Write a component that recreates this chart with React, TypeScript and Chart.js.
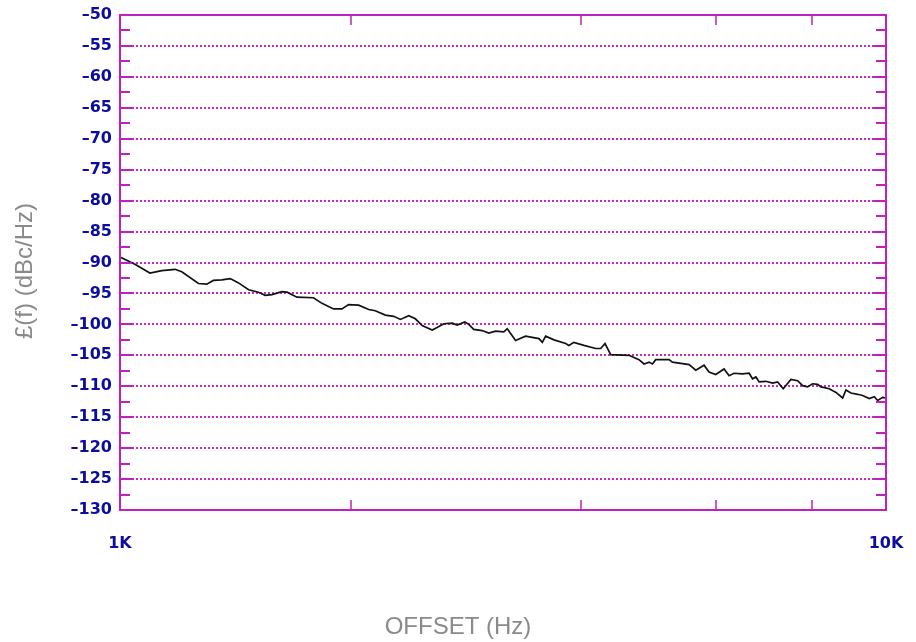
import { useEffect, useRef } from "react";
import { Chart, registerables } from "chart.js";

Chart.register(...registerables);

// ---- data ----
const offsetHz = [
  1000, 1046, 1094, 1134, 1180, 1204, 1266, 1298, 1324, 1358,
  1393, 1428, 1472, 1516, 1547, 1579, 1627, 1652, 1702, 1789,
  1835, 1900, 1949, 1988, 2049, 2112, 2154, 2220, 2277, 2323,
  2382, 2430, 2480, 2556, 2594, 2647, 2715, 2755, 2819, 2853,
  2896, 2970, 3030, 3092, 3170, 3203, 3284, 3384, 3523, 3559,
  3595, 3686, 3818, 3855, 3913, 4033, 4178, 4242, 4297, 4371,
  4618, 4759, 4832, 4905, 4955, 5005, 5209, 5263, 5533, 5645,
  5787, 5875, 5995, 6146, 6240, 6334, 6496, 6627, 6696, 6763,
  6830, 6969, 7111, 7219, 7342, 7514, 7667, 7783, 7900, 8020,
  8142, 8224, 8433, 8604, 8778, 8866, 9000, 9183, 9322, 9510,
  9654, 9752, 9901, 10000,
];
const phaseNoise = [
  -89.1, -90.3, -91.7, -91.3, -91.1, -91.5, -93.4, -93.5, -92.9, -92.8,
  -92.6, -93.3, -94.4, -94.8, -95.3, -95.2, -94.7, -94.8, -95.6, -95.7,
  -96.6, -97.5, -97.5, -96.8, -96.9, -97.6, -97.8, -98.5, -98.7, -99.2,
  -98.6, -99.1, -100.2, -100.9, -100.5, -99.9, -99.8, -100.1, -99.6, -100.0,
  -100.8, -101.0, -101.4, -101.1, -101.2, -100.7, -102.6, -101.9, -102.3, -102.9,
  -101.9, -102.5, -103.1, -103.4, -102.9, -103.4, -103.9, -103.9, -103.1, -104.9,
  -105.0, -105.7, -106.4, -106.1, -106.4, -105.7, -105.7, -106.1, -106.5, -107.4,
  -106.6, -107.7, -108.1, -107.2, -108.3, -107.9, -108.0, -107.9, -108.8, -108.5,
  -109.3, -109.2, -109.5, -109.3, -110.4, -108.9, -109.1, -109.9, -110.1, -109.6,
  -109.7, -110.1, -110.4, -111.0, -111.9, -110.6, -111.1, -111.3, -111.5, -112.0,
  -111.7, -112.3, -111.8, -111.9,
];
const xTickValues = [1000, 2000, 4000, 6000, 8000, 10000];
const xTickLabels = ["1K", "", "", "", "", "10K"];
const yMin = -130;
const yMax = -50;
const yMinorStep = 2.5;
const yMajorStep = 5;
const xTitle = "OFFSET (Hz)";
const yTitle = "£(f) (dBc/Hz)";

// ---- styles ----
const FRAME = "#c020c0";
const GRID = "#c828c8";
const LABEL = "#0c0ca0";
const TITLE = "#8a8a8a";

const framePlugin = {
  id: "frame",
  beforeDatasetsDraw(chart: any) {
    const { ctx, chartArea, scales } = chart;
    const { left, right } = chartArea;
    const y = scales.y;
    ctx.save();
    ctx.strokeStyle = GRID;
    ctx.lineWidth = 2;
    ctx.setLineDash([2, 2]);
    for (let v = yMin + yMajorStep; v < yMax; v += yMajorStep) {
      const py = Math.round(y.getPixelForValue(v));
      ctx.beginPath();
      ctx.moveTo(left, py);
      ctx.lineTo(right, py);
      ctx.stroke();
    }
    ctx.restore();
  },
  afterDatasetsDraw(chart: any) {
    const { ctx, chartArea, scales } = chart;
    const { left, right, top, bottom } = chartArea;
    const x = scales.x;
    const y = scales.y;
    ctx.save();
    ctx.strokeStyle = FRAME;
    ctx.lineWidth = 2;
    ctx.setLineDash([]);
    for (let v = yMin + yMinorStep; v < yMax; v += yMinorStep) {
      const py = Math.round(y.getPixelForValue(v));
      const len = v % yMajorStep === 0 ? 12 : 10;
      ctx.beginPath();
      ctx.moveTo(left, py);
      ctx.lineTo(left + len, py);
      ctx.moveTo(right, py);
      ctx.lineTo(right - len, py);
      ctx.stroke();
    }
    ctx.lineWidth = 1.5;
    for (const v of xTickValues) {
      if (v === xTickValues[0] || v === xTickValues[xTickValues.length - 1]) continue;
      const px = Math.round(x.getPixelForValue(v));
      ctx.beginPath();
      ctx.moveTo(px, bottom);
      ctx.lineTo(px, bottom - 10);
      ctx.moveTo(px, top);
      ctx.lineTo(px, top + 10);
      ctx.stroke();
    }
    ctx.lineWidth = 2;
    ctx.strokeRect(left, top, right - left, bottom - top);
    ctx.restore();
  },
  afterDraw(chart: any) {
    const { ctx, width } = chart;
    ctx.save();
    ctx.fillStyle = TITLE;
    ctx.font = "24px 'Liberation Sans', Arial, sans-serif";
    ctx.textAlign = "center";
    ctx.textBaseline = "middle";
    ctx.fillText(xTitle, width / 2, 627);
    ctx.translate(25, 271);
    ctx.rotate(-Math.PI / 2);
    ctx.fillText(yTitle, 0, 0);
    ctx.restore();
  },
};

export default function App() {
  const ref = useRef<HTMLCanvasElement | null>(null);
  useEffect(() => {
    if (!ref.current) return;
    const chart = new Chart(ref.current, {
      type: "line",
      data: {
        datasets: [
          {
            data: offsetHz.map((f, i) => ({ x: f, y: phaseNoise[i] })),
            borderColor: "#111111",
            borderWidth: 1.7,
            pointRadius: 0,
            tension: 0,
            fill: false,
          },
        ],
      },
      options: {
        animation: false,
        responsive: false,
        devicePixelRatio: 1,
        layout: { padding: { left: 0, right: 30, top: 15, bottom: 0 }, autoPadding: false },
        plugins: { legend: { display: false }, tooltip: { enabled: false }, title: { display: false } },
        scales: {
          x: {
            type: "logarithmic",
            min: 1000,
            max: 10000,
            grid: { display: false, drawTicks: false },
            border: { display: false },
            afterBuildTicks: (s: any) => {
              s.ticks = xTickValues.map((v) => ({ value: v }));
            },
            afterFit: (s: any) => {
              s.height = 132;
              s.paddingLeft = 0;
              s.paddingRight = 0;
            },
            ticks: {
              autoSkip: false,
              maxRotation: 0,
              padding: 24,
              color: LABEL,
              font: { family: "'DejaVu Sans', Verdana, sans-serif", size: 16, weight: "bold" },
              callback: (v: any) => {
                const i = xTickValues.indexOf(Number(v));
                return i >= 0 ? xTickLabels[i] : "";
              },
            },
          },
          y: {
            type: "linear",
            min: yMin,
            max: yMax,
            grid: { display: false, drawTicks: false },
            border: { display: false },
            afterFit: (s: any) => {
              s.width = 120;
              s.paddingTop = 0;
              s.paddingBottom = 0;
            },
            ticks: {
              stepSize: yMinorStep,
              autoSkip: false,
              padding: 8,
              color: LABEL,
              font: { family: "'DejaVu Sans', Verdana, sans-serif", size: 16, weight: "bold" },
              callback: (v: any) => {
                const n = Number(v);
                if (n % yMajorStep !== 0) return "";
                return String(n).replace("-", "\u2013");
              },
            },
          },
        },
      },
      plugins: [framePlugin],
    } as any);
    return () => chart.destroy();
  }, []);
  return (
    <div style={{ position: "absolute", left: 0, top: 0, width: 916, height: 642, background: "#fff" }}>
      <canvas ref={ref} width={916} height={642} />
    </div>
  );
}
